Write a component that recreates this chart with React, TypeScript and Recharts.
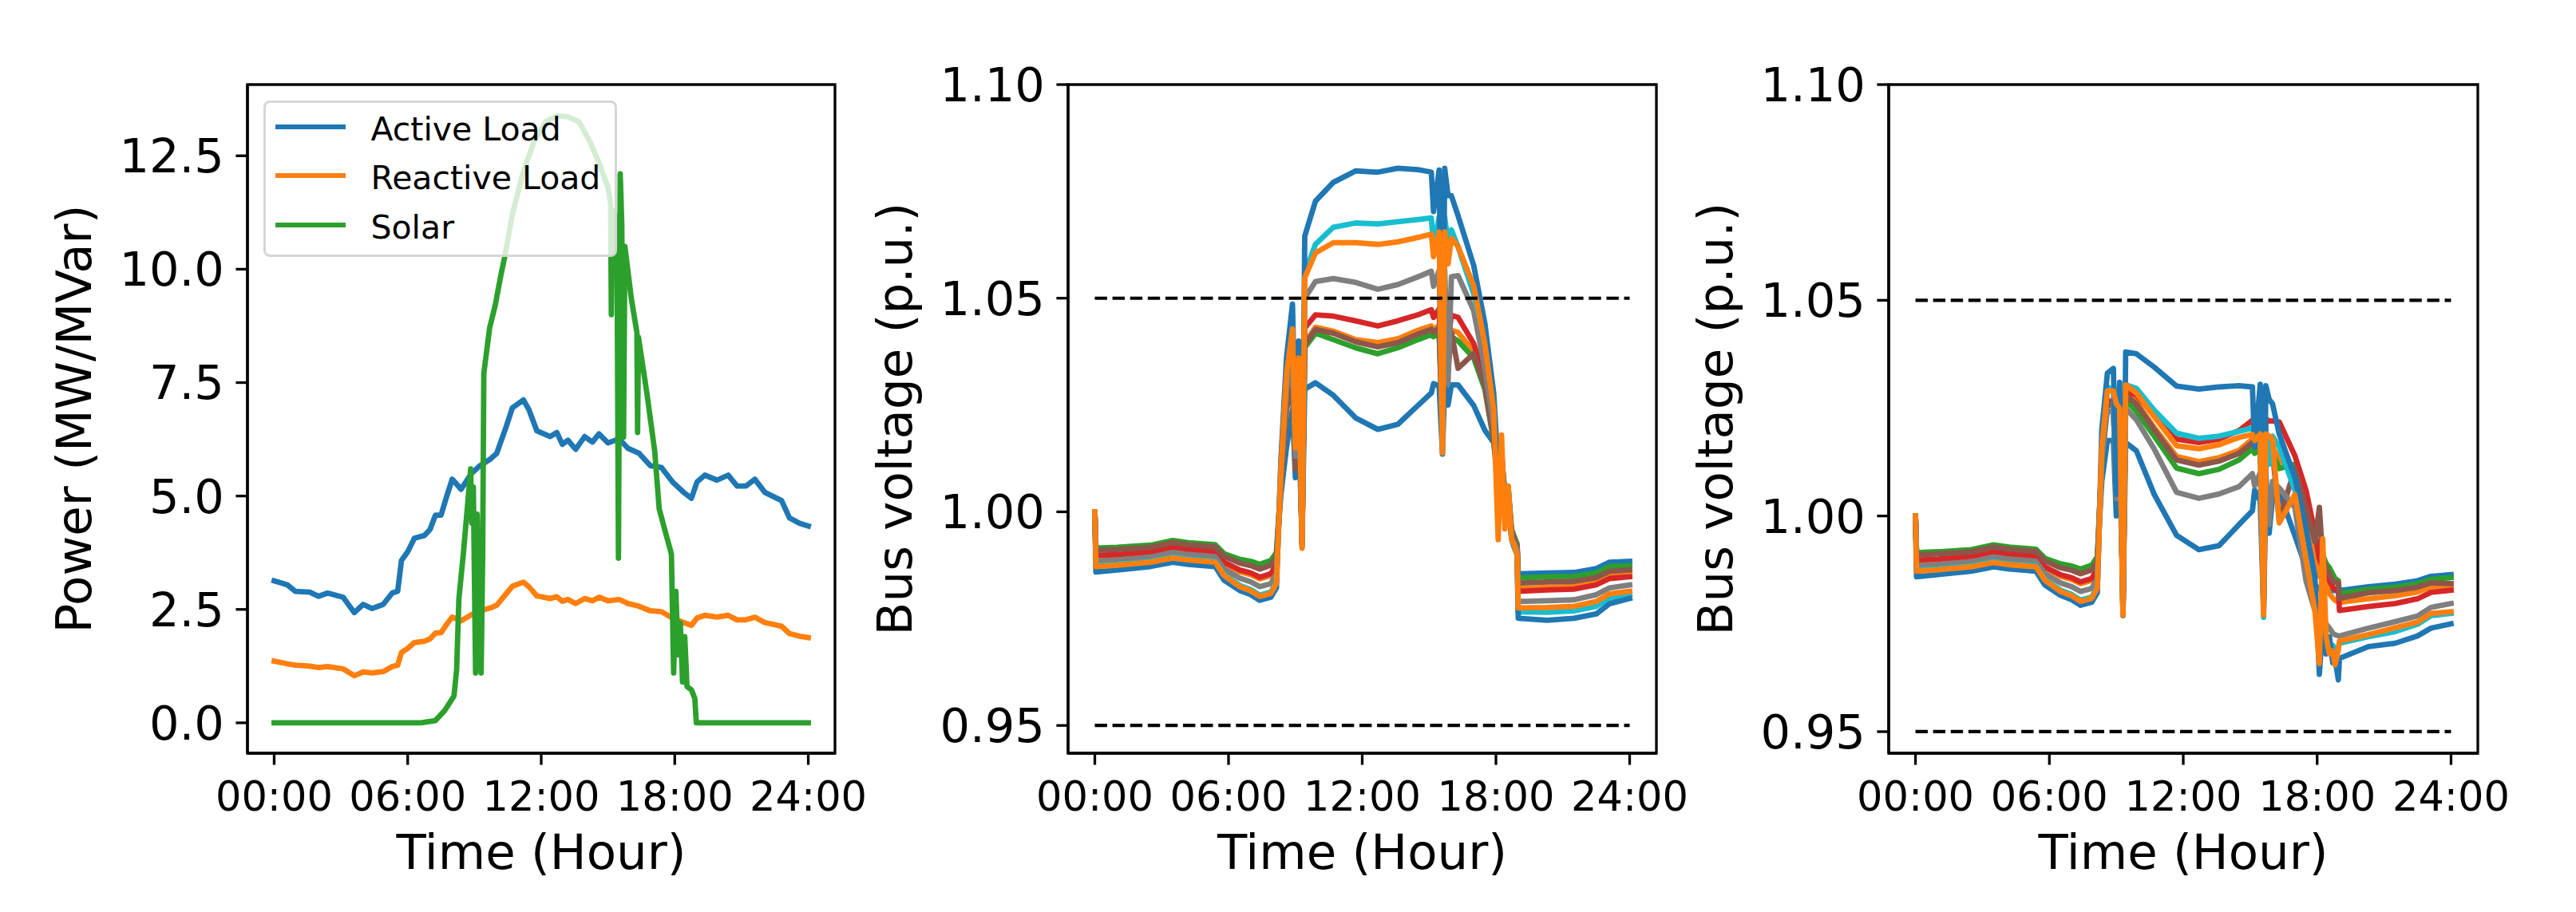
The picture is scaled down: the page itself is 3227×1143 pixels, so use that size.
import React from 'react';
import { LineChart, Line, XAxis, YAxis, ReferenceArea, Legend, Label } from 'recharts';

const FONT = '"DejaVu Sans", sans-serif';
const BLUE = '#1f77b4';
const ORANGE = '#ff7f0e';
const GREEN = '#2ca02c';
const RED = '#d62728';
const BROWN = '#8c564b';
const GRAY = '#7f7f7f';
const CYAN = '#17becf';

// ---------- axes ----------
const xTicks = [0, 6, 12, 18, 24];
const xTickLabels = ['00:00', '06:00', '12:00', '18:00', '24:00'];
const powerTicks = [0, 2.5, 5, 7.5, 10, 12.5];
const voltTicks = [0.95, 1.0, 1.05, 1.1];

// ---------- panel 1 : load & solar ----------
const seriesNames = ['Active Load', 'Reactive Load', 'Solar'];
const seriesColors = [BLUE, ORANGE, GREEN];

const loadTime = [0, 0.6, 0.95, 1.6, 2.0, 2.4, 3.1, 3.6, 4.0, 4.4, 4.9, 5.3, 5.55, 5.72, 6.0, 6.3, 6.75, 7.0, 7.25, 7.5, 7.75, 8.0, 8.4, 8.85, 9.25, 9.7, 10.0, 10.4, 10.7, 11.2, 11.45, 11.8, 12.4, 12.7, 12.95, 13.2, 13.55, 13.95, 14.3, 14.6, 15.0, 15.5, 15.9, 16.4, 16.9, 17.4, 17.9, 18.4, 18.75, 19.0, 19.35, 19.9, 20.4, 20.8, 21.2, 21.6, 22.05, 22.8, 23.15, 23.6, 24];
const activeLoad = [3.13, 3.04, 2.90, 2.88, 2.79, 2.86, 2.77, 2.43, 2.61, 2.52, 2.61, 2.86, 2.90, 3.58, 3.77, 4.07, 4.13, 4.26, 4.58, 4.58, 4.99, 5.37, 5.15, 5.49, 5.67, 5.81, 5.94, 6.49, 6.94, 7.12, 6.90, 6.44, 6.31, 6.40, 6.14, 6.23, 6.03, 6.31, 6.19, 6.37, 6.17, 6.26, 6.05, 5.94, 5.67, 5.63, 5.31, 5.08, 4.95, 5.31, 5.46, 5.35, 5.46, 5.22, 5.22, 5.37, 5.08, 4.90, 4.52, 4.40, 4.34];
const reactiveLoad = [1.36, 1.30, 1.27, 1.25, 1.22, 1.24, 1.19, 1.04, 1.12, 1.10, 1.13, 1.24, 1.27, 1.55, 1.64, 1.77, 1.80, 1.85, 1.98, 1.99, 2.17, 2.33, 2.25, 2.38, 2.47, 2.53, 2.59, 2.83, 3.01, 3.10, 3.00, 2.80, 2.74, 2.78, 2.68, 2.72, 2.63, 2.74, 2.69, 2.77, 2.69, 2.72, 2.63, 2.57, 2.47, 2.45, 2.31, 2.21, 2.15, 2.31, 2.37, 2.33, 2.37, 2.27, 2.27, 2.33, 2.21, 2.13, 1.97, 1.91, 1.88];

const solarTime = [0, 6.6, 7.24, 7.66, 8.08, 8.2, 8.3, 8.5, 8.83, 8.88, 8.95, 9.05, 9.12, 9.2, 9.3, 9.37, 9.42, 9.68, 9.93, 10.2, 10.35, 10.7, 11.2, 11.7, 12.2, 12.7, 13.2, 13.7, 14.2, 14.6, 15.0, 15.12, 15.15, 15.2, 15.4, 15.47, 15.55, 15.62, 15.7, 15.76, 16.05, 16.3, 16.33, 16.37, 16.75, 17.1, 17.3, 17.6, 17.85, 17.95, 18.05, 18.15, 18.25, 18.35, 18.45, 18.55, 18.75, 18.9, 18.97, 24];
const solarPower = [0, 0, 0.05, 0.27, 0.59, 1.18, 2.73, 3.72, 5.6, 4.4, 5.2, 1.1, 4.6, 2.7, 1.1, 3.7, 7.7, 8.7, 9.2, 9.9, 10.25, 11.2, 12.16, 12.84, 13.25, 13.38, 13.36, 13.25, 12.8, 12.34, 11.8, 11.45, 9.0, 11.3, 11.1, 3.63, 12.1, 11.0, 6.3, 10.5, 9.35, 8.6, 6.4, 8.5, 7.26, 5.99, 4.72, 4.17, 3.72, 1.1, 2.9, 1.5, 2.2, 0.9, 1.9, 0.8, 0.73, 0.54, 0, 0];

// ---------- panels 2 & 3 : bus voltages ----------
const busTime = [0, 0.05, 1.0, 2.5, 3.5, 4.2, 5.4, 5.8, 6.5, 7.0, 7.4, 7.9, 8.15, 8.35, 8.6, 8.87, 9.0, 9.15, 9.3, 9.42, 9.9, 10.7, 11.7, 12.7, 13.6, 14.5, 15.1, 15.2, 15.45, 15.6, 15.7, 15.85, 16.0, 16.3, 17.0, 17.5, 17.9, 18.1, 18.25, 18.4, 18.55, 18.7, 18.8, 18.95, 19.0, 20.3, 21.5, 22.5, 23.1, 24];
const limitTime = [0, 24];
const upperLimit = [1.05, 1.05];
const lowerLimit = [0.95, 0.95];

// panel 2 (without control)
const p2Blue1 = [1.000, 0.9913, 0.9915, 0.9920, 0.9931, 0.9926, 0.9921, 0.9900, 0.9886, 0.9881, 0.9873, 0.9882, 0.9902,
  1.004, 1.015, 1.024, 1.008, 1.020, 0.993,
  1.0287, 1.0302, 1.0273, 1.022, 1.0193, 1.0205, 1.0249, 1.0278,
  1.030, 1.0295, 1.0135, 1.030, 1.025, 1.0297, 1.0297,
  1.0249, 1.0191, 1.0162, 1.006, 1.010, 1.002, 1.004, 0.995, 0.994, 0.992,
  0.9855, 0.9857, 0.9858, 0.9867, 0.9882, 0.9884];
const p2Orange1 = [1.000, 0.9896, 0.9898, 0.9904, 0.9915, 0.9910, 0.9905, 0.9879, 0.9860, 0.9853, 0.9843, 0.9851, 0.9874,
  1.006, 1.024, 1.031, 1.011, 1.028, 0.9925,
  1.0394, 1.0432, 1.0423, 1.0403, 1.0396, 1.0405, 1.0425, 1.0435,
  1.0425, 1.0437, 1.019, 1.044, 1.037, 1.0425, 1.042,
  1.0375, 1.030, 1.018, 1.006, 1.012, 1.003, 1.004, 0.995, 0.9935, 0.9915,
  0.9820, 0.9823, 0.9825, 0.9835, 0.9850, 0.9854];
const p2Green = [1.000, 0.9915, 0.9917, 0.9922, 0.9933, 0.9928, 0.9923, 0.9902, 0.9889, 0.9884, 0.9877, 0.9886, 0.9905,
  1.007, 1.025, 1.030, 1.011, 1.028, 0.993,
  1.0384, 1.0418, 1.0403, 1.0384, 1.037, 1.0384, 1.0403, 1.0415,
  1.041, 1.0418, 1.020, 1.042, 1.038, 1.041, 1.040,
  1.036, 1.0287, 1.0165, 1.008, 1.013, 1.005, 1.006, 0.996, 0.9945, 0.9925,
  0.9845, 0.9848, 0.9849, 0.9857, 0.9872, 0.9874];
const p2Red = [1.000, 0.9898, 0.9900, 0.9906, 0.9917, 0.9912, 0.9907, 0.9882, 0.9864, 0.9857, 0.9847, 0.9855, 0.9878,
  1.007, 1.026, 1.034, 1.012, 1.030, 0.9925,
  1.043, 1.0461, 1.0458, 1.0447, 1.0435, 1.0447, 1.0461, 1.0473,
  1.0455, 1.0475, 1.019, 1.0478, 1.040, 1.046, 1.0455,
  1.0394, 1.0316, 1.019, 1.008, 1.013, 1.004, 1.005, 0.995, 0.9935, 0.9915,
  0.9814, 0.9817, 0.9819, 0.9829, 0.9844, 0.9848];
const p2Brown = [1.000, 0.9910, 0.9912, 0.9917, 0.9928, 0.9923, 0.9918, 0.9896, 0.9880, 0.9874, 0.9866, 0.9875, 0.9896,
  1.006, 1.024, 1.030, 1.010, 1.027, 0.993,
  1.039, 1.0427, 1.0418, 1.0398, 1.0386, 1.0396, 1.0416, 1.0427,
  1.042, 1.043, 1.017, 1.043, 1.033, 1.042, 1.0336,
  1.037, 1.0295, 1.017, 1.007, 1.012, 1.004, 1.005, 0.9955, 0.994, 0.992,
  0.9833, 0.9836, 0.9837, 0.9846, 0.9861, 0.9864];
const p2Gray = [1.000, 0.9885, 0.9887, 0.9894, 0.9905, 0.9900, 0.9895, 0.9866, 0.9845, 0.9836, 0.9825, 0.9832, 0.9856,
  1.008, 1.028, 1.037, 1.013, 1.032, 0.992,
  1.050, 1.0539, 1.0546, 1.0537, 1.0521, 1.0532, 1.055, 1.0563,
  1.0528, 1.0565, 1.017, 1.0568, 1.030, 1.055, 1.0553,
  1.0471, 1.0336, 1.020, 1.005, 1.012, 1.002, 1.004, 0.994, 0.993, 0.991,
  0.9790, 0.9792, 0.9794, 0.9806, 0.9822, 0.9829];
const p2Cyan = [1.000, 0.9874, 0.9877, 0.9884, 0.9894, 0.9889, 0.9884, 0.9853, 0.9828, 0.9818, 0.9805, 0.9812, 0.9836,
  1.011, 1.033, 1.044, 1.016, 1.037, 0.992,
  1.0558, 1.0626, 1.0666, 1.0676, 1.0674, 1.0679, 1.0684, 1.0688,
  1.062, 1.069, 1.014, 1.069, 1.063, 1.066, 1.062,
  1.051, 1.040, 1.025, 1.004, 1.012, 0.999, 1.003, 0.9935, 0.992, 0.990,
  0.9766, 0.9765, 0.9768, 0.9779, 0.9798, 0.9806];
const p2Blue2 = [1.000, 0.9859, 0.9864, 0.9872, 0.9882, 0.9877, 0.9872, 0.9840, 0.9816, 0.9806, 0.9793, 0.9800, 0.9822,
  1.012, 1.036, 1.0486, 1.018, 1.040, 0.9925,
  1.0645, 1.0727, 1.0771, 1.0798, 1.0795, 1.0804, 1.0801, 1.0795,
  1.0703, 1.080, 1.020, 1.0804, 1.074, 1.074, 1.0693,
  1.0577, 1.0442, 1.0278, 1.010, 1.015, 1.001, 1.004, 0.994, 0.992, 0.990,
  0.9751, 0.9746, 0.9751, 0.9761, 0.9785, 0.9797];
const p2Orange2 = [1.000, 0.9872, 0.9875, 0.9882, 0.9892, 0.9887, 0.9882, 0.9851, 0.9825, 0.9815, 0.9802, 0.9809, 0.9833,
  1.010, 1.032, 1.0428, 1.015, 1.036, 0.9915,
  1.0548, 1.0606, 1.063, 1.063, 1.0626, 1.0632, 1.0642, 1.065,
  1.0597, 1.0655, 1.0138, 1.0655, 1.058, 1.064, 1.0621,
  1.0529, 1.0394, 1.0239, 0.9935, 1.018, 0.996, 1.006, 0.9935, 0.9925, 0.990,
  0.9775, 0.9776, 0.9779, 0.9790, 0.9808, 0.9814];

// panel 3 (with control)
const p3Blue1 = [1.000, 0.9913, 0.9915, 0.9920, 0.9931, 0.9926, 0.9921, 0.9900, 0.9886, 0.9881, 0.9873, 0.9882, 0.9902,
  1.008, 1.0175, 1.0175, 1.000, 1.014, 0.979,
  1.017, 1.0151, 1.0050, 0.9955, 0.9922, 0.9931, 0.9980, 1.0012,
  1.006, 1.0035, 0.978, 1.004, 0.996, 1.004, 1.0055,
  0.9955, 0.988, 0.984, 0.983, 0.983, 0.9828, 0.9827, 0.9827, 0.9827, 0.9827,
  0.9827, 0.9836, 0.9842, 0.9850, 0.9860, 0.9864];
const p3Orange1 = [1.000, 0.9896, 0.9898, 0.9904, 0.9915, 0.9910, 0.9905, 0.9879, 0.9860, 0.9853, 0.9843, 0.9851, 0.9874,
  1.013, 1.026, 1.0255, 1.005, 1.022, 0.978,
  1.028, 1.0265, 1.0205, 1.0138, 1.0126, 1.0135, 1.0152, 1.0178,
  1.0165, 1.018, 0.980, 1.018, 1.016, 1.016, 1.013,
  1.010, 0.999, 0.990, 0.986, 0.988, 0.984, 0.982, 0.981, 0.9805, 0.980,
  0.9800, 0.9808, 0.9815, 0.9824, 0.9836, 0.9836];
const p3Green = [1.000, 0.9915, 0.9917, 0.9922, 0.9933, 0.9928, 0.9923, 0.9902, 0.9889, 0.9884, 0.9877, 0.9886, 0.9905,
  1.013, 1.026, 1.0255, 1.006, 1.022, 0.979,
  1.027, 1.0242, 1.0185, 1.0111, 1.0098, 1.0108, 1.0130, 1.0156,
  1.0145, 1.0158, 0.982, 1.016, 1.014, 1.0145, 1.011,
  1.012, 1.003, 0.995, 0.993, 0.991, 0.989, 0.988, 0.9865, 0.9855, 0.985,
  0.9820, 0.9830, 0.9835, 0.9843, 0.9853, 0.9857];
const p3Red = [1.000, 0.9898, 0.9900, 0.9906, 0.9917, 0.9912, 0.9907, 0.9882, 0.9864, 0.9857, 0.9847, 0.9855, 0.9878,
  1.014, 1.027, 1.026, 1.006, 1.023, 0.978,
  1.029, 1.028, 1.0235, 1.0178, 1.017, 1.0178, 1.0198, 1.0222,
  1.020, 1.0225, 0.980, 1.0225, 1.022, 1.022, 1.0218,
  1.014, 1.006, 0.996, 0.990, 0.988, 0.986, 0.985, 0.9835, 0.983, 0.9827,
  0.9781, 0.9790, 0.9797, 0.9808, 0.9823, 0.9828];
const p3Brown = [1.000, 0.9910, 0.9912, 0.9917, 0.9928, 0.9923, 0.9918, 0.9896, 0.9880, 0.9874, 0.9866, 0.9875, 0.9896,
  1.013, 1.026, 1.0255, 1.005, 1.022, 0.978,
  1.028, 1.026, 1.0200, 1.0130, 1.0118, 1.0127, 1.0145, 1.017,
  1.016, 1.0172, 0.981, 1.017, 1.014, 1.015, 0.999,
  1.011, 1.002, 0.994, 1.002, 0.990, 0.988, 0.9865, 0.985, 0.9846, 0.9846,
  0.9809, 0.9822, 0.9827, 0.9835, 0.9845, 0.9843];
const p3Gray = [1.000, 0.9885, 0.9887, 0.9894, 0.9905, 0.9900, 0.9895, 0.9866, 0.9845, 0.9836, 0.9825, 0.9832, 0.9856,
  1.013, 1.0245, 1.024, 1.004, 1.021, 0.978,
  1.025, 1.0223, 1.0155, 1.0055, 1.0041, 1.0051, 1.0068, 1.0098,
  1.007, 1.010, 0.979, 1.010, 0.998, 1.008, 1.0065,
  1.002, 0.985, 0.978, 0.976, 0.977, 0.975, 0.974, 0.9728, 0.9725, 0.9722,
  0.9722, 0.9740, 0.9755, 0.9768, 0.9788, 0.9797];
const p3Cyan = [1.000, 0.9874, 0.9877, 0.9884, 0.9894, 0.9889, 0.9884, 0.9853, 0.9828, 0.9818, 0.9805, 0.9812, 0.9836,
  1.016, 1.030, 1.029, 1.010, 1.026, 0.977,
  1.0304, 1.0296, 1.0245, 1.0192, 1.018, 1.0185, 1.0196, 1.0204,
  1.018, 1.0205, 0.9765, 1.020, 1.012, 1.0185, 1.016,
  1.006, 0.992, 0.980, 0.970, 0.985, 0.972, 0.969, 0.970, 0.969, 0.9695,
  0.9705, 0.9720, 0.9732, 0.9749, 0.9769, 0.9774];
const p3Blue2 = [1.000, 0.9859, 0.9864, 0.9872, 0.9882, 0.9877, 0.9872, 0.9840, 0.9816, 0.9806, 0.9793, 0.9800, 0.9822,
  1.020, 1.0331, 1.0342, 1.005, 1.031, 0.9769,
  1.038, 1.0376, 1.0345, 1.0301, 1.0294, 1.0299, 1.0302, 1.0299,
  1.016, 1.0305, 0.979, 1.0302, 1.027, 1.026, 1.019,
  1.009, 0.997, 0.986, 0.9633, 0.975, 0.968, 0.972, 0.966, 0.967, 0.962,
  0.9670, 0.9697, 0.9705, 0.9722, 0.9740, 0.9750];
const p3Orange2 = [1.000, 0.9872, 0.9875, 0.9882, 0.9892, 0.9887, 0.9882, 0.9851, 0.9825, 0.9815, 0.9802, 0.9809, 0.9833,
  1.016, 1.029, 1.029, 1.026, 1.025, 0.977,
  1.0304, 1.0285, 1.023, 1.0163, 1.0156, 1.0165, 1.0182, 1.0189,
  1.0175, 1.019, 0.977, 1.019, 1.0185, 1.018, 0.9984,
  1.005, 0.990, 0.978, 0.9658, 0.9947, 0.972, 0.968, 0.9687, 0.9655, 0.969,
  0.9710, 0.9725, 0.9741, 0.9754, 0.9774, 0.9778];

// ---------- tables built from the arrays ----------
const loadRows = loadTime.map((t, i) => ({ t, active: activeLoad[i], reactive: reactiveLoad[i] }));
const solarRows = solarTime.map((t, i) => ({ t, solar: solarPower[i] }));
const limitRows = limitTime.map((t, i) => ({ t, upper: upperLimit[i], lower: lowerLimit[i] }));

const busKeys = ['b1', 'o1', 'green', 'red', 'brown', 'gray', 'cyan', 'b2', 'o2'];
const busColors = [BLUE, ORANGE, GREEN, RED, BROWN, GRAY, CYAN, BLUE, ORANGE];
const p2Series = [p2Blue1, p2Orange1, p2Green, p2Red, p2Brown, p2Gray, p2Cyan, p2Blue2, p2Orange2];
const p3Series = [p3Blue1, p3Orange1, p3Green, p3Red, p3Brown, p3Gray, p3Cyan, p3Blue2, p3Orange2];
const buildBusRows = (series: number[][]) =>
  busTime.map((t, i) => {
    const row: Record<string, number> = { t };
    busKeys.forEach((k, j) => { row[k] = series[j][i]; });
    return row;
  });
const p2Rows = buildBusRows(p2Series);
const p3Rows = buildBusRows(p3Series);

// ---------- styling ----------
const LW = 6.8;
const SPINE = 3.3;
const TICK = 14.6;
const CH = 1143;
const XDOM: [number, number] = [-1.2, 25.2];

const xTickFmt = (v: number) => xTickLabels[xTicks.indexOf(v)] ?? '';

const yLabel = (text: string, cx: number, cy: number) => () => (
  <text x={cx} y={cy} transform={`rotate(-90 ${cx} ${cy})`} textAnchor="middle" dominantBaseline="central"
    fontFamily={FONT} fontSize={61} fill="#000">{text}</text>
);
const xLabel = (text: string, cx: number, y: number) => () => (
  <text x={cx} y={y} textAnchor="middle" fontFamily={FONT} fontSize={61} fill="#000">{text}</text>
);

const LegendBox = () => (
  <div style={{ position: 'relative', boxSizing: 'border-box', width: 443, height: 196, border: '3.5px solid #d6d6d6', borderRadius: 8, background: 'rgba(255,255,255,0.8)' }}>
    {seriesNames.map((name, i) => {
      const cy = 30 + i * 61.3;
      return (
        <React.Fragment key={name}>
          <div style={{ position: 'absolute', left: 11.5, top: cy - 3.1, width: 88, height: 6.2, background: seriesColors[i] }} />
          <div style={{ position: 'absolute', left: 131.5, top: cy - 25 + 3, height: 50, lineHeight: '50px', fontFamily: FONT, fontSize: 41, color: '#000', whiteSpace: 'nowrap' }}>{name}</div>
        </React.Fragment>
      );
    })}
  </div>
);

type PanelCfg = { left: number; width: number; mLeft: number; mRight: number };
const YW = 200;
const XH = 150;
const MTOP = 106;
const MBOT = CH - MTOP - 838 - XH;

function axes(cfg: PanelCfg, yDomain: [number, number], yTicks: number[], yFmt: (v: number) => string, yText: string) {
  const spineX = cfg.mLeft + YW;
  const plotW = cfg.width - cfg.mLeft - YW - cfg.mRight;
  return [
    <XAxis key="x" dataKey="t" type="number" domain={XDOM} ticks={xTicks} tickFormatter={xTickFmt} allowDataOverflow
      height={XH} tickSize={TICK} tickMargin={21} interval={0}
      axisLine={{ stroke: '#000', strokeWidth: SPINE }} tickLine={{ stroke: '#000', strokeWidth: SPINE }}
      tick={{ fontFamily: FONT, fontSize: 51, fill: '#000' }}>
      <Label content={xLabel('Time (Hour)', spineX + plotW / 2, 1089)} />
    </XAxis>,
    <YAxis key="y" type="number" domain={yDomain} ticks={yTicks} tickFormatter={yFmt} allowDataOverflow
      width={YW} tickSize={TICK} tickMargin={14.6} interval={0}
      axisLine={{ stroke: '#000', strokeWidth: SPINE }} tickLine={{ stroke: '#000', strokeWidth: SPINE }}
      tick={{ fontFamily: FONT, fontSize: 59, fill: '#000' }}>
      <Label content={yLabel(yText, spineX - 218, MTOP + 419)} />
    </YAxis>,
    <ReferenceArea key="frame" x1={XDOM[0]} x2={XDOM[1]} y1={yDomain[0]} y2={yDomain[1]} fill="none" fillOpacity={0}
      stroke="#000" strokeWidth={SPINE} ifOverflow="visible" />,
  ];
}

const P1: PanelCfg = { left: 0, width: 1100, mLeft: 110, mRight: 54 };
const P2: PanelCfg = { left: 1030, width: 1100, mLeft: 108, mRight: 55 };
const P3: PanelCfg = { left: 2060, width: 1167, mLeft: 106, mRight: 123 };

const P1_DOMAIN: [number, number] = [-0.67, 14.07];
const P2_DOMAIN: [number, number] = [0.9435, 1.1];
const P3_DOMAIN: [number, number] = [0.945, 1.1];

function BusPanel({ cfg, rows, domain }: { cfg: PanelCfg; rows: Record<string, number>[]; domain: [number, number] }) {
  return (
    <div style={{ position: 'absolute', left: cfg.left, top: 0 }}>
      <LineChart width={cfg.width} height={CH} data={rows}
        margin={{ top: MTOP, right: cfg.mRight, bottom: MBOT, left: cfg.mLeft }}>
        {axes(cfg, domain, voltTicks, (v) => v.toFixed(2), 'Bus voltage (p.u.)')}
        {busKeys.map((k, j) => (
          <Line key={k} dataKey={k} type="linear" stroke={busColors[j]} strokeWidth={LW} dot={false}
            activeDot={false} strokeLinejoin="round" strokeLinecap="square" isAnimationActive={false} />
        ))}
        <Line data={limitRows} dataKey="upper" type="linear" stroke="#000" strokeWidth={4.2} strokeDasharray="15.4 6.7"
          dot={false} activeDot={false} isAnimationActive={false} />
        <Line data={limitRows} dataKey="lower" type="linear" stroke="#000" strokeWidth={4.2} strokeDasharray="15.4 6.7"
          dot={false} activeDot={false} isAnimationActive={false} />
      </LineChart>
    </div>
  );
}

export default function App() {
  return (
    <div style={{ position: 'absolute', left: 0, top: 0, width: 3227, height: CH, background: '#fff', overflow: 'hidden' }}>
      <div style={{ position: 'absolute', left: P1.left, top: 0 }}>
        <LineChart width={P1.width} height={CH}
          margin={{ top: MTOP, right: P1.mRight, bottom: MBOT, left: P1.mLeft }}>
          {axes(P1, P1_DOMAIN, powerTicks, (v) => v.toFixed(1), 'Power (MW/MVar)')}
          <Line data={loadRows} dataKey="active" name={seriesNames[0]} type="linear" stroke={seriesColors[0]} strokeWidth={LW}
            dot={false} activeDot={false} strokeLinejoin="round" strokeLinecap="square" isAnimationActive={false} />
          <Line data={loadRows} dataKey="reactive" name={seriesNames[1]} type="linear" stroke={seriesColors[1]} strokeWidth={LW}
            dot={false} activeDot={false} strokeLinejoin="round" strokeLinecap="square" isAnimationActive={false} />
          <Line data={solarRows} dataKey="solar" name={seriesNames[2]} type="linear" stroke={seriesColors[2]} strokeWidth={LW}
            dot={false} activeDot={false} strokeLinejoin="round" strokeLinecap="square" isAnimationActive={false} />
          <Legend layout="horizontal" verticalAlign="middle" align="center" content={() => <LegendBox />}
            wrapperStyle={{ position: 'absolute', left: 330, top: 126, width: 443, height: 196, margin: 0, padding: 0 }} />
        </LineChart>
      </div>
      <BusPanel cfg={P2} rows={p2Rows} domain={P2_DOMAIN} />
      <BusPanel cfg={P3} rows={p3Rows} domain={P3_DOMAIN} />
    </div>
  );
}
